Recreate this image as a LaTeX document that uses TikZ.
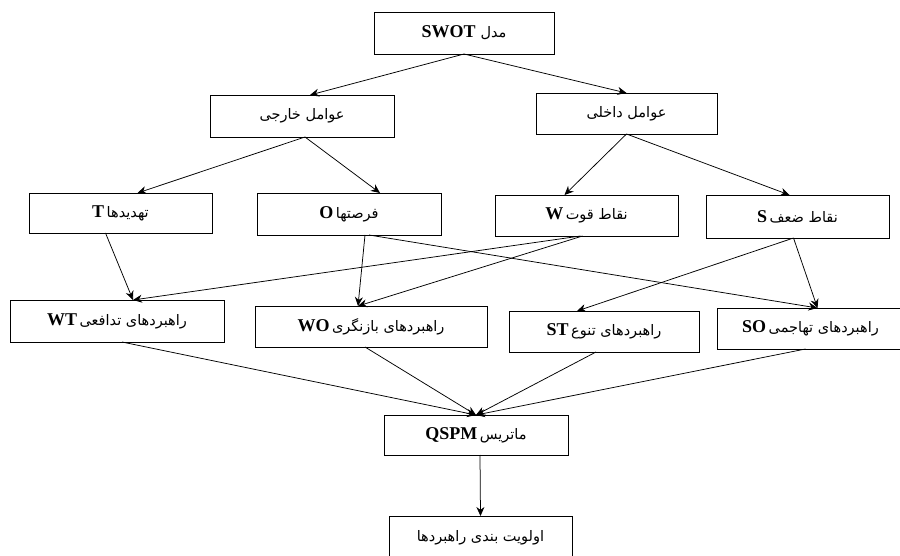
\documentclass[tikz,border=0pt]{standalone}
\usepackage{fontspec}
\setmainfont{Liberation Serif}
\newfontfamily\fa[Script=Arabic]{DejaVu Sans}
\TeXXeTstate=1
\usetikzlibrary{arrows.meta}
\newcommand{\lat}[1]{{\fontsize{18}{21}\selectfont\bfseries #1}}
\newcommand{\per}[1]{{\fontsize{14.5}{17}\selectfont\fa\beginR #1\endR}}

\begin{document}
\begin{tikzpicture}[x=1pt, y=-1pt,
		box/.style = {draw, line width=0.8pt, inner sep=2pt, outer sep=0pt},
		arr/.style = {-{Stealth[length=9pt, width=8pt]}, line width=0.75pt}]
		\clip (0,0) rectangle (900,556);
		% level 1 and 2
		\node[box, minimum width=180pt, minimum height=42pt] (m) at (464,33) {\lat{SWOT}\ \ \per{مدل}};
		\node[box, minimum width=184pt, minimum height=42pt] (ext) at (302,116) {\per{عوامل خارجی}};
		\node[box, minimum width=181pt, minimum height=41pt] (int) at (626.5,113.5) {\per{عوامل داخلی}};
		% level 3
		\node[box, minimum width=183pt, minimum height=40pt] (t) at (120.5,213) {\lat{T} \per{تهدیدها}};
		\node[box, minimum width=184pt, minimum height=42pt] (o) at (349,214) {\lat{O} \per{فرصتها}};
		\node[box, minimum width=183pt, minimum height=41pt] (w) at (586.5,215.5) {\lat{W} \per{نقاط قوت}};
		\node[box, minimum width=183pt, minimum height=43pt] (s) at (797.5,216.5) {\lat{S} \per{نقاط ضعف}};
		% level 4
		\node[box, minimum width=214pt, minimum height=42pt] (wt) at (117,321) {\lat{WT} \per{راهبردهای تدافعی}};
		\node[box, minimum width=232pt, minimum height=41pt] (wo) at (371,326.5) {\lat{WO} \per{راهبردهای بازنگری}};
		\node[box, minimum width=190pt, minimum height=41pt] (st) at (604,331.5) {\lat{ST} \per{راهبردهای تنوع}};
		\node[box, minimum width=187pt, minimum height=41pt] (so) at (810.5,328.5) {\lat{SO} \per{راهبردهای تهاجمی}};
		% level 5 and 6
		\node[box, minimum width=184pt, minimum height=40pt] (q) at (476,435) {\lat{QSPM} \per{ماتریس}};
		\node[box, minimum width=183pt, minimum height=44pt] (p) at (480.5,538) {\per{اولویت بندی راهبردها}};
		% arrows
		\draw[arr] (m.south) -- ([xshift=8pt]ext.north);
		\draw[arr] (m.south) -- (int.north);
		\draw[arr] ([xshift=3pt]ext.south) -- ([xshift=17pt]t.north);
		\draw[arr] ([xshift=3pt]ext.south) -- ([xshift=31pt]o.north);
		\draw[arr] (int.south) -- ([xshift=-22pt]w.north);
		\draw[arr] (int.south) -- ([xshift=-8pt]s.north);
		\draw[arr] ([xshift=-15pt]t.south) -- ([xshift=16pt]wt.north);
		\draw[arr] ([xshift=-6pt]w.south) -- ([xshift=16pt]wt.north);
		\draw[arr] ([xshift=16pt]o.south) -- ([xshift=-13pt]wo.north);
		\draw[arr] ([xshift=-4pt]w.south) -- ([xshift=-13pt]wo.north);
		\draw[arr] ([xshift=20pt]o.south) -- ([xshift=7pt]so.north);
		\draw[arr] ([xshift=-4pt]s.south) -- ([xshift=7pt]so.north);
		\draw[arr] ([xshift=-4pt]s.south) -- ([xshift=-27pt]st.north);
		\draw[arr] ([xshift=5pt]wt.south) -- (q.north);
		\draw[arr] ([xshift=-6pt]wo.south) -- (q.north);
		\draw[arr] ([xshift=-8pt]st.south) -- (q.north);
		\draw[arr] ([xshift=-5pt]so.south) -- (q.north);
		\draw[arr] ([xshift=4pt]q.south) -- (p.north);
	\end{tikzpicture}
\end{document}
